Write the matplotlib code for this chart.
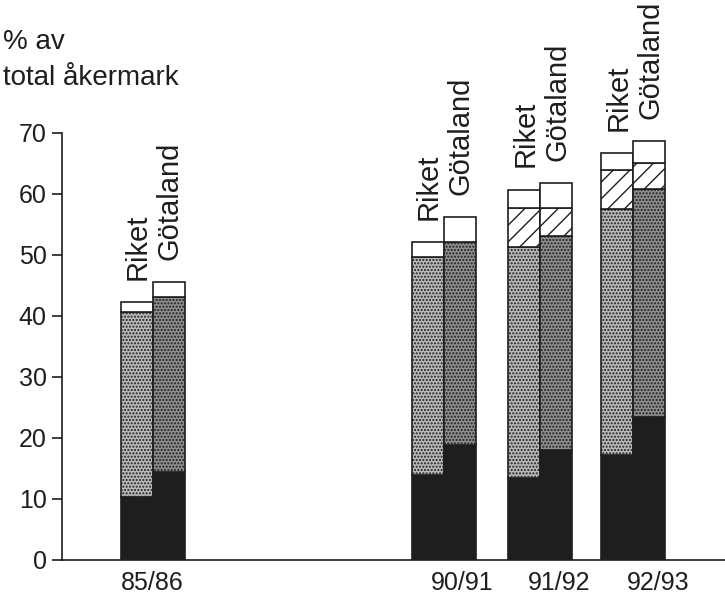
import matplotlib.pyplot as plt
import numpy as np

# data (percent of total arable land)
seasons = ["85/86", "90/91", "91/92", "92/93"]
regions = ["Riket", "Götaland"]

riket_black = [10.3, 13.9, 13.4, 17.2]
riket_stipple = [30.3, 35.8, 37.9, 40.3]
riket_hatch = [0.0, 0.0, 6.4, 6.4]
riket_white = [1.7, 2.4, 3.0, 2.8]

gotaland_black = [14.4, 18.9, 18.0, 23.4]
gotaland_stipple = [28.7, 33.2, 35.1, 37.4]
gotaland_hatch = [0.0, 0.0, 4.6, 4.3]
gotaland_white = [2.5, 4.1, 4.1, 3.6]

plt.rcParams['font.family'] = ['Liberation Sans', 'DejaVu Sans']
plt.rcParams['hatch.linewidth'] = 1.0

fig = plt.figure(figsize=(7.25, 6), dpi=100)
ax = fig.add_axes([0.0855, 0.0667, 0.9145, 0.7117])

group_x = np.array([0.0, 3.05, 4.06, 5.04])
w = 0.335
ink = "#1e1e1e"


def stack(xpos, black, stipple, hatch, white, stip_col):
    black = np.array(black)
    stipple = np.array(stipple)
    hatch = np.array(hatch)
    white = np.array(white)
    kw = dict(width=w, edgecolor=ink, linewidth=1.2)
    ax.bar(xpos, black, color=ink, **kw)
    ax.bar(xpos, stipple, bottom=black, color=stip_col, hatch=".....", **kw)
    b = black + stipple
    mask = hatch > 0
    ax.bar(xpos[mask], hatch[mask], bottom=b[mask], color="white", hatch="//", **kw)
    b = b + hatch
    ax.bar(xpos, white, bottom=b, color="white", **kw)
    return b + white


tops_r = stack(group_x - w / 2, riket_black, riket_stipple, riket_hatch, riket_white, "#b9b9b9")
tops_g = stack(group_x + w / 2, gotaland_black, gotaland_stipple, gotaland_hatch, gotaland_white, "#8e8e8e")

for xs, tops, name in [(group_x - w / 2, tops_r, regions[0]), (group_x + w / 2, tops_g, regions[1])]:
    for x, t in zip(xs, tops):
        ax.annotate(name, (x, t), xytext=(1, 16), textcoords="offset points",
                    rotation=90, ha="center", va="bottom", fontsize=21,
                    color=ink, annotation_clip=False)

ax.set_xlim(-0.95, 6.0)
ax.set_ylim(0, 70)
ax.set_yticks(np.arange(0, 71, 10))
ax.tick_params(axis="y", direction="out", length=7, width=1.2, labelsize=18,
               colors=ink, pad=4)

label_shift = [0.0, 0.2, 0.2, 0.26]
ax.set_xticks(group_x + np.array(label_shift))
ax.set_xticklabels(seasons, fontsize=18, color=ink)
ax.tick_params(axis="x", length=0, pad=8)

for s in ["top", "right"]:
    ax.spines[s].set_visible(False)
for s in ["left", "bottom"]:
    ax.spines[s].set_linewidth(1.2)
    ax.spines[s].set_color(ink)

fig.text(0.004, 0.93, "% av", fontsize=20, color=ink, va="center")
fig.text(0.004, 0.87, "total åkermark", fontsize=20, color=ink, va="center")

fig.savefig("out.png", dpi=100, facecolor="white")
